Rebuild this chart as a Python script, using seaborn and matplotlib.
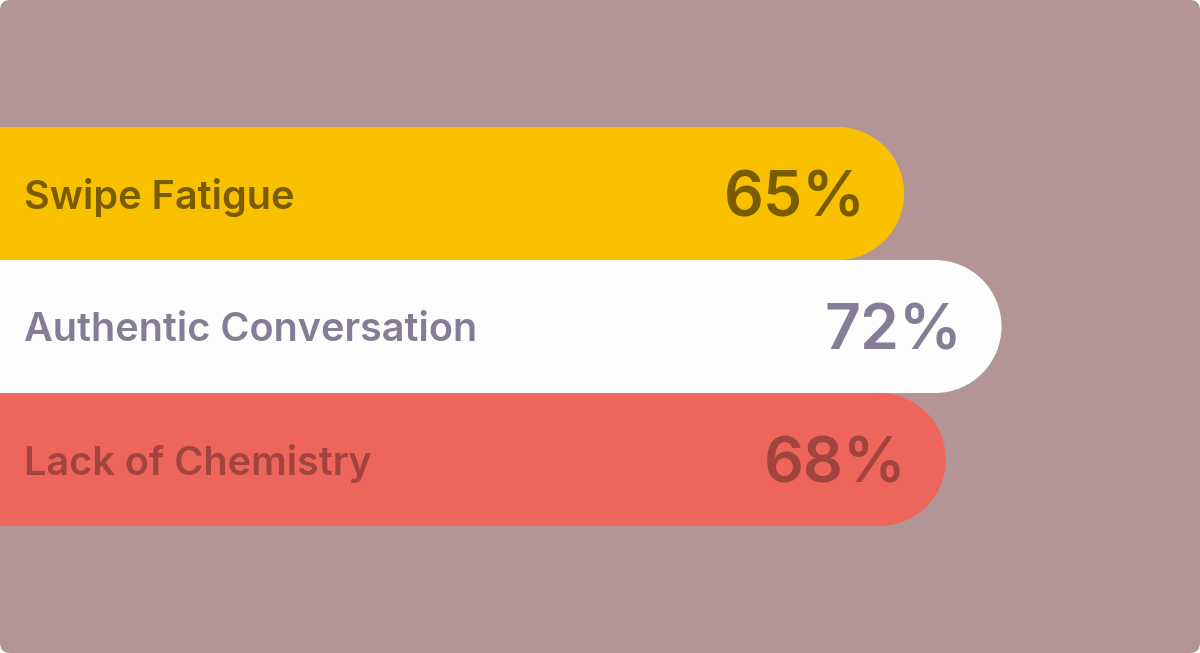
import matplotlib
matplotlib.use("Agg")
import matplotlib.pyplot as plt
import seaborn as sns
from matplotlib.patches import Ellipse, FancyBboxPatch
from matplotlib.transforms import IdentityTransform, offset_copy

categories = ["Swipe Fatigue", "Authentic Conversation", "Lack of Chemistry"]
values = [65, 72, 68]
bar_colors = ["#F9C000", "#FDFDFD", "#EE665B"]
text_colors = ["#7A5C00", "#857D96", "#A2443E"]

bg = "#B39597"

sns.set_theme(style="white")
plt.rcParams["font.family"] = ["Inter", "DejaVu Sans"]

fig = plt.figure(figsize=(12, 6.53), dpi=100)
fig.patch.set_facecolor("white")
fig.add_artist(FancyBboxPatch((0, 0), 1200, 653, boxstyle="round,pad=0,rounding_size=10",
                              transform=IdentityTransform(), facecolor=bg, edgecolor="none",
                              zorder=-10))

ax = fig.add_axes([0, 0, 1, 1])
ax.set_facecolor("none")

sns.barplot(x=values, y=categories, hue=categories, palette=bar_colors, orient="h",
            width=1.0, saturation=1, linewidth=0, legend=False, ax=ax)

# px scale: ~13.9 px per percentage point
xmax = 1200 / 13.91
ax.set_xlim(0, xmax)
ax.set_ylim(3.455, -1.455)
ax.set_axis_off()

# rounded right caps
px_x = ax.transData.transform((1, 0))[0] - ax.transData.transform((0, 0))[0]
px_y = abs(ax.transData.transform((0, 1))[1] - ax.transData.transform((0, 0))[1])
for bar in ax.patches:
    w = bar.get_width()
    h = bar.get_height()
    y = bar.get_y()
    r = (h * px_y / 2) / px_x
    bar.set_width(w - r)
    ax.add_patch(Ellipse((w - r, y + h / 2), 2 * r, h, facecolor=bar.get_facecolor(),
                         edgecolor="none", lw=0))

label_tr = offset_copy(ax.transData, fig=fig, x=24, y=0, units="dots")
for i, (cat, v) in enumerate(zip(categories, values)):
    ax.text(0, i, cat, transform=label_tr, ha="left", va="center_baseline",
            fontsize=28.5, fontweight="semibold", color=text_colors[i])
    ax.annotate(f"{v}%", xy=(v, i), xytext=(-28, 0), textcoords="offset points",
                ha="right", va="center_baseline", fontsize=45, fontweight="semibold",
                color=text_colors[i])

fig.savefig("out.png", dpi=100)
